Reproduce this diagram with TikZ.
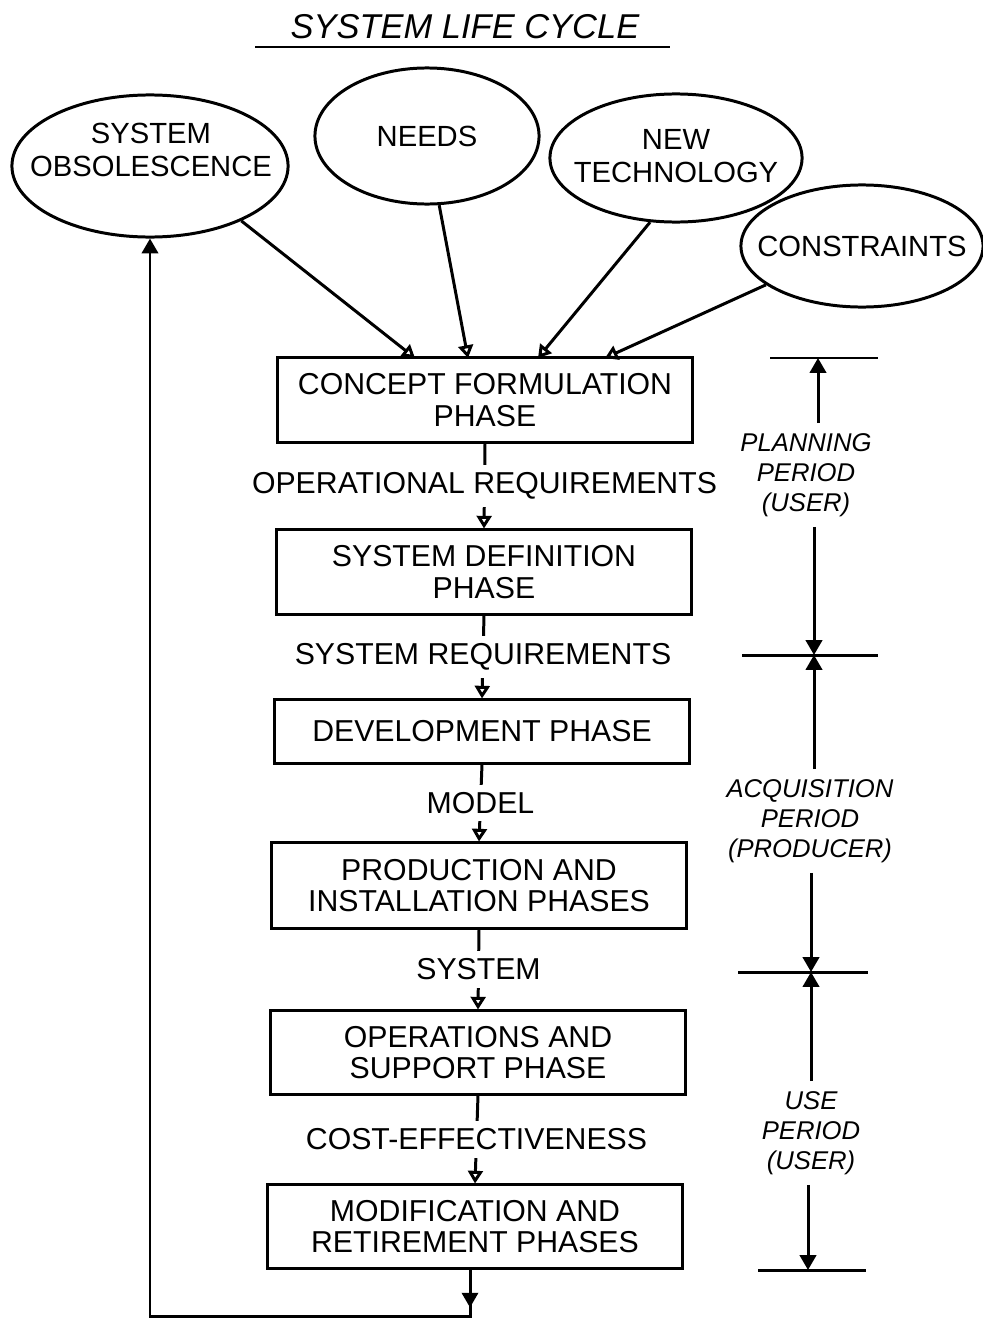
\documentclass[tikz,border=0pt]{standalone}
\usepackage{fontspec}
\setmainfont{Liberation Sans}
\usetikzlibrary{arrows.meta,shapes.geometric}
\begin{document}
\begin{tikzpicture}[x=0.01cm,y=-0.01cm,line width=0.85pt,
  every node/.style={align=center,inner sep=0pt},
  txt/.style={font=\fontsize{8.6}{8.9}\selectfont},
  phasebox/.style={draw,txt,minimum width=4.15cm},
  source/.style={draw,ellipse},
  sourcetext/.style={font=\fontsize{8.3}{9.4}\selectfont},
  flowlabel/.style={txt,fill=white,inner xsep=1pt,inner ysep=2.2pt},
  period/.style={font=\fontsize{7.3}{8.5}\selectfont\itshape,inner sep=2.5pt},
  opentip/.style={-{Triangle[open,length=3.6pt,width=4.2pt]}},
  solidtip/.style={-{Triangle[length=4.2pt,width=4.6pt]}}]
\useasboundingbox (0,0) rectangle (983,1321);

% title
\node[font=\fontsize{9.8}{10}\selectfont\itshape] (title) at (465,27) {SYSTEM LIFE CYCLE};
\draw (255,47) -- (670,47);

% sources of a new system: outlines, then their lettering
\node[source,minimum width=2.76cm,minimum height=1.42cm] (obs) at (150,166) {};
\node[source,minimum width=2.24cm,minimum height=1.36cm] (needs) at (427,136) {};
\node[source,minimum width=2.52cm,minimum height=1.28cm] (tech) at (676,158) {};
\node[source,minimum width=2.42cm,minimum height=1.22cm] (cons) at (862,246) {};
\node[sourcetext] (obstext) at (151,150) {SYSTEM\\OBSOLESCENCE};
\node[sourcetext] (needstext) at (needs) {NEEDS};
\node[sourcetext] (techtext) at (676,156) {NEW\\TECHNOLOGY};
\node[sourcetext] (constext) at (cons) {CONSTRAINTS};

% the phases
\node[phasebox,minimum height=0.84cm] (concept) at (485,400) {CONCEPT FORMULATION\\PHASE};
\node[phasebox,minimum height=0.84cm] (def) at (484,572) {SYSTEM DEFINITION\\PHASE};
\node[phasebox,minimum height=0.63cm] (dev) at (482,731.5) {DEVELOPMENT PHASE};
\node[phasebox,minimum height=0.85cm] (prod) at (479,885.5) {PRODUCTION AND\\INSTALLATION PHASES};
\node[phasebox,minimum height=0.83cm] (ops) at (478,1052.5) {OPERATIONS AND\\SUPPORT PHASE};
\node[phasebox,minimum height=0.83cm] (mod) at (475,1226.5) {MODIFICATION AND\\RETIREMENT PHASES};

% inputs into concept formulation
\coordinate (in1) at (415,358);
\coordinate (in2) at (468,358);
\coordinate (in3) at (538,358);
\coordinate (in4) at (605,358);
\draw[opentip] (obs.-31) -- (in1);
\draw[opentip] (needs.-80) -- (in2);
\draw[opentip] (tech.-112) -- (in3);
\draw[opentip] (cons.-158) -- (in4);

% products passed between phases
\draw[opentip] (concept.south) -- node[flowlabel] (l1) {OPERATIONAL REQUIREMENTS} (def.north);
\draw[opentip] (def.south) -- node[flowlabel] (l2) {SYSTEM REQUIREMENTS} (dev.north);
\draw[opentip] (dev.south) -- node[flowlabel] (l3) {MODEL} (prod.north);
\draw[opentip] (prod.south) -- node[flowlabel] (l4) {SYSTEM} (ops.north);
\draw[opentip] (ops.south) -- node[flowlabel] (l5) {COST-EFFECTIVENESS} (mod.north);

% feedback loop back to obsolescence
\coordinate (lb) at (470,1316);
\coordinate (lc) at (150,1316);
\draw[solidtip] (mod.south -| lb) -- ++(0,38);
\draw[solidtip] (mod.south -| lb) -- (lb) -- (lc) -- (lc |- obs.south);

% period markers
\coordinate (p0) at (818,358);
\coordinate (p1) at (814,655);
\coordinate (p2) at (811,972);
\coordinate (p3) at (808,1270);
\draw (770,358) -- (878,358);
\draw (742,655) -- (878,655);
\draw (738,972) -- (868,972);
\draw (758,1270) -- (866,1270);

\node[period] (plan) at (806,475) {PLANNING\\PERIOD\\(USER)};
\node[period] (acq) at (810,821) {ACQUISITION\\PERIOD\\(PRODUCER)};
\node[period] (use) at (811,1133) {USE\\PERIOD\\(USER)};

\draw[solidtip] (plan.north -| p0) -- (p0);
\draw[solidtip] (plan.south -| p1) -- (p1);
\draw[solidtip] (acq.north -| p1) -- (p1);
\draw[solidtip] (acq.south -| p2) -- (p2);
\draw[solidtip] (use.north -| p2) -- (p2);
\draw[solidtip] (use.south -| p3) -- (p3);
\end{tikzpicture}
\end{document}
